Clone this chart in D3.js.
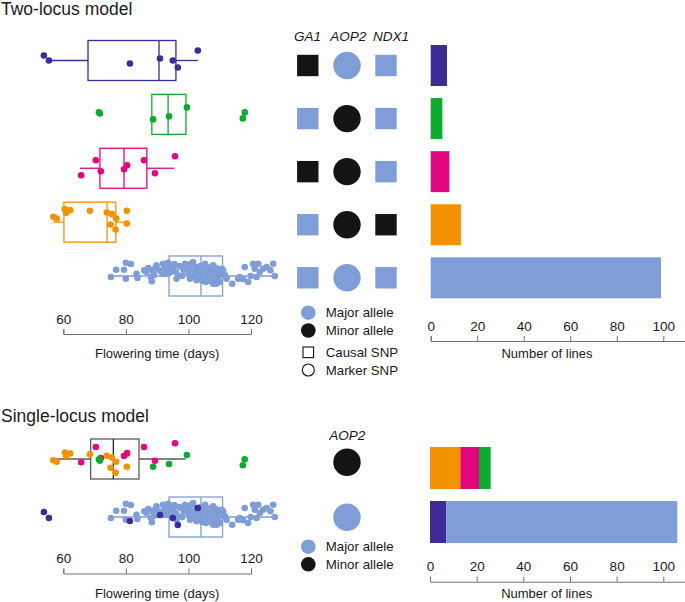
<!DOCTYPE html>
<html><head><meta charset="utf-8">
<script src="https://cdn.jsdelivr.net/npm/d3@7"></script>
<style>
body{margin:0;background:#fff;}
svg{display:block;font-family:"Liberation Sans",Arial,sans-serif;}
</style></head><body>
<svg id="chart" width="685" height="602"></svg>
<script>
// ---------------- DATA ----------------
const rowKeys = ["GA1", "AOP2", "GA1+AOP2", "AOP2+NDX1", "none"];
const rowColors = ["#3d2b97", "#0bab2e", "#e2077f", "#f39200", "#7f9dd6"];
const genes = ["GA1", "AOP2", "NDX1"];
const geneShape = ["causal", "marker", "causal"];
const ga1Allele  = ["minor", "major", "minor", "major", "major"];
const aop2Allele = ["major", "minor", "minor", "minor", "major"];
const ndx1Allele = ["major", "major", "major", "minor", "major"];
const lineCounts = [7, 5, 8, 13, 99];

// box statistics (days)
const boxWhiskLo = [56.4, 88.3, 65.3, 56.7, 74.6];
const boxQ1      = [67.9, 88.3, 71.7, 60.2, 93.8];
const boxMedian  = [90.6, 93.5, 79.4, 74.0, 104.0];
const boxQ3      = [96.0, 99.2, 86.7, 76.8, 110.9];
const boxWhiskHi = [103.0, 99.2, 95.4, 80.7, 128.6];
const minorBox   = [56.3, 68.75, 76.0, 84.2, 99.1]; // lo, q1, med, q3, hi

// flowering time per line (days) and jitter offsets
const purpleDays = [53.8, 55.4, 81.3, 90.9, 95.0, 96.6, 103.0];
const purpleJit  = [-5, 0, 3, -2, 0, 7, -10];
const purpleJit2 = [-5, 1, 4, -2, 1, 8, -9];
const greenDays = [71.4, 71.7, 88.7, 93.8, 99.5, 118.0, 117.4];
const greenJit  = [-2, -1, 5, 2, -7, -2, 4];
const greenJit2 = [0.3, 1.7, 7.7, 5, -4, 0.3, 6.3];
const magentaDays = [65.7, 70.4, 72.0, 79.4, 80.4, 85.8, 89.3, 95.7];
const magentaJit  = [7, -8, 3, 1, -3, -8, 5, -12];
const magentaJit2 = [3.3, -12, -1, -3, -6, -12, 1.7, -15.7];
const orangeDays = [56.8, 57.9, 60.5, 60.9, 62.2, 68.5, 73.9, 75.5, 76.9, 75.1, 76.7, 80.3, 80.3];
const orangeJit  = [-5.3, -3.7, -13, -9.3, -12, -11.3, -9.7, -8, -3.7, 2.3, 7.3, -11.3, 1.3];
const orangeJit2 = [1.2, 2.8, -6.5, -2.8, -5.5, -4.8, -3.2, -1.5, 2.8, 8.8, 13.8, -4.8, 7.8];
const blueDays = [75.2,76.9,79.4,80.0,81.6,80.0,83.4,83.7,85.9,86.6,88.0,88.3,88.5,89.3,89.8,90.7,91.4,91.9,92.5,93.0,
  93.5,94.1,94.6,95.1,94.3,93.5,96.2,96.7,97.8,98.9,99.4,99.9,101.0,101.5,102.6,102.1,100.5,102.6,103.7,104.2,
  104.7,105.3,105.8,106.3,106.9,107.4,107.9,108.5,109.0,109.5,110.1,110.6,109.0,107.9,111.1,111.7,112.2,114.0,115.9,116.4,
  117.5,118.0,119.1,119.9,120.7,121.2,121.8,122.3,122.8,123.9,125.0,126.2,127.1,127.6,
  92.0,93.8,95.5,96.0,97.0,98.0,98.5,100.0,100.8,101.8,102.8,103.2,103.9,104.5,105.0,105.6,106.0,106.6,107.2,107.7,
  108.2,108.8,110.4,87.2,89.0];
const blueJit = [1,-6.3,-6.3,-13.3,-12,2.7,-2.3,2,-5.7,-4,1,5.3,-5.7,-7.3,-10.7,-5.7,-4,-12.3,-9,-7.3,
  -13.3,-10.7,-5.7,-9,-4,-2.3,2.7,-0.7,-9,-12.3,-7.3,-10.7,-5.7,-14,-9,1,2.7,4.3,-4,1,
  -7.3,-12.3,-2.3,2.7,-7.3,-0.7,-10.7,4.3,-4,1,6,-7.3,7.7,7.7,-5.7,-0.7,2.7,7.7,2.7,1,
  3.3,-9,6,0,-12.3,-7.3,1,-12.3,-4,-7.3,-9,-5.7,-12.3,0,
  -2,-6,-12,-4,-10,0,-6,-2,-12,0,-4,3,-10,5,-3,6,-9,0,5,-4,
  0,-8,-2,-8,-1];

const flowerTicks = [60, 80, 100, 120];
const lineTicks = [0, 20, 40, 60, 80, 100];

// single-locus model
const singleKeys = ["minor", "major"];
const singleStack = [
  [{c: 3, v: 13}, {c: 2, v: 8}, {c: 1, v: 5}],
  [{c: 0, v: 7}, {c: 4, v: 99}]
];

// ---------------- DRAW ----------------
const svg = d3.select("#chart");
const alleleColor = {major: "#7f9dd6", minor: "#141414"};
const axisColor = "#707070", textColor = "#1a1a1a";

const xFlow = d3.scaleLinear().domain([60, 120]).range([63.3, 251]);
const xLinesTop = d3.scaleLinear().domain([0, 109.5]).range([430.7, 430.7 + 2.326 * 109.5]);
const xLinesBot = d3.scaleLinear().domain([0, 109.4]).range([430, 430 + 2.333 * 109.4]);

const yBoxTop = d3.scalePoint().domain(rowKeys).range([60.5, 276]);
const ySymTop = d3.scalePoint().domain(rowKeys).range([65.5, 277.8]);
const yBoxBot = d3.scalePoint().domain(singleKeys).range([459, 517]);
const ySymBot = d3.scalePoint().domain(singleKeys).range([462.3, 517.3]);
const yBarBot = d3.scalePoint().domain(singleKeys).range([468, 522]);

function title(txt, y) {
  svg.append("text").attr("x", 1).attr("y", y).attr("font-size", 17.5)
    .attr("fill", textColor).text(txt);
}
title("Two-locus model", 15);
title("Single-locus model", 421.5);

function drawAxis(scale, y, ticks, label, labelY) {
  const g = svg.append("g").attr("transform", `translate(0,${y})`)
    .call(d3.axisTop(scale).tickValues(ticks).tickSize(5).tickSizeOuter(5).tickPadding(5.5));
  g.select(".domain").attr("stroke", axisColor);
  g.selectAll(".tick line").attr("stroke", axisColor);
  g.selectAll(".tick text").attr("fill", textColor).attr("font-size", 13.5)
    .attr("font-family", '"Liberation Sans",Arial,sans-serif');
  svg.append("text").attr("x", (scale(ticks[0]) + scale(ticks[ticks.length - 1])) / 2)
    .attr("y", labelY).attr("text-anchor", "middle").attr("font-size", 13)
    .attr("fill", textColor).text(label);
}

function drawBox(yc, color, lo, q1, med, q3, hi, medColor) {
  const g = svg.append("g").attr("stroke", color).attr("stroke-width", 1.3).attr("fill", "none");
  g.append("line").attr("x1", xFlow(lo)).attr("x2", xFlow(q1)).attr("y1", yc).attr("y2", yc);
  g.append("line").attr("x1", xFlow(q3)).attr("x2", xFlow(hi)).attr("y1", yc).attr("y2", yc);
  g.append("rect").attr("x", xFlow(q1)).attr("y", yc - 20)
    .attr("width", xFlow(q3) - xFlow(q1)).attr("height", 40);
  g.append("line").attr("x1", xFlow(med)).attr("x2", xFlow(med)).attr("y1", yc - 20).attr("y2", yc + 20)
    .attr("stroke", medColor || color);
}

function drawPoints(yc, color, days, jit) {
  svg.append("g").selectAll("circle").data(days).join("circle")
    .attr("cx", d => xFlow(d)).attr("cy", (d, i) => yc + jit[i]).attr("r", 3.3)
    .attr("fill", color);
}

// ---- Two-locus: boxes + points
const topPts = [
  [purpleDays, purpleJit], [greenDays, greenJit], [magentaDays, magentaJit],
  [orangeDays, orangeJit], [blueDays, blueJit]
];
rowKeys.forEach((k, i) => {
  const yc = yBoxTop(k);
  drawBox(yc, rowColors[i], boxWhiskLo[i], boxQ1[i], boxMedian[i], boxQ3[i], boxWhiskHi[i]);
  drawPoints(yc, rowColors[i], topPts[i][0], topPts[i][1]);
});
drawAxis(xFlow, 334, flowerTicks, "Flowering time (days)", 357.5);

// ---- Two-locus: genotype symbols
const geneX = [307.8, 347, 386];
const geneLabelX = [307.5, 348.3, 391];
genes.forEach((gname, j) => {
  svg.append("text").attr("x", geneLabelX[j]).attr("y", 40.5).attr("text-anchor", "middle")
    .attr("font-size", 13.5).attr("font-style", "italic").attr("fill", textColor).text(gname);
});
const alleleTable = [ga1Allele, aop2Allele, ndx1Allele];
rowKeys.forEach((k, i) => {
  const yc = ySymTop(k);
  alleleTable.forEach((arr, j) => {
    const col = alleleColor[arr[i]];
    if (geneShape[j] === "causal") {
      svg.append("rect").attr("x", geneX[j] - 10.7).attr("y", yc - 10.7)
        .attr("width", 21.4).attr("height", 21.4).attr("fill", col);
    } else {
      svg.append("circle").attr("cx", geneX[j]).attr("cy", yc).attr("r", 13.7).attr("fill", col);
    }
  });
});

// legend (top)
function legendRow(y, kind, fill, label) {
  if (kind === "dot") svg.append("circle").attr("cx", 308.3).attr("cy", y).attr("r", 7.3).attr("fill", fill);
  if (kind === "sq") svg.append("rect").attr("x", 303).attr("y", y - 5.3).attr("width", 10.6).attr("height", 10.6)
    .attr("fill", "none").attr("stroke", "#111").attr("stroke-width", 1.1);
  if (kind === "ring") svg.append("circle").attr("cx", 308.3).attr("cy", y).attr("r", 6)
    .attr("fill", "none").attr("stroke", "#111").attr("stroke-width", 1.1);
  svg.append("text").attr("x", 325.7).attr("y", y + 4.7).attr("font-size", 13.3)
    .attr("fill", textColor).text(label);
}
legendRow(312.7, "dot", alleleColor.major, "Major allele");
legendRow(330.5, "dot", alleleColor.minor, "Minor allele");
legendRow(352.3, "sq", null, "Causal SNP");
legendRow(370, "ring", null, "Marker SNP");

// ---- Two-locus: bars
rowKeys.forEach((k, i) => {
  svg.append("rect").attr("x", xLinesTop(0)).attr("y", ySymTop(k) - 20.5)
    .attr("width", xLinesTop(lineCounts[i]) - xLinesTop(0)).attr("height", 41)
    .attr("fill", rowColors[i]);
});
drawAxis(xLinesTop, 341, lineTicks, "Number of lines", 357.5);

// ---- Single-locus: boxes + points
drawBox(yBoxBot("minor"), "#5a5a5a", minorBox[0], minorBox[1], minorBox[2], minorBox[3], minorBox[4], "#222");
drawBox(yBoxBot("major"), rowColors[4], boxWhiskLo[4], boxQ1[4], boxMedian[4], boxQ3[4], boxWhiskHi[4]);
drawPoints(yBoxBot("minor"), rowColors[3], orangeDays, orangeJit2);
drawPoints(yBoxBot("minor"), rowColors[2], magentaDays, magentaJit2);
drawPoints(yBoxBot("minor"), rowColors[1], greenDays, greenJit2);
drawPoints(yBoxBot("major"), rowColors[4], blueDays, blueJit);
drawPoints(yBoxBot("major"), rowColors[0], purpleDays, purpleJit2);
drawAxis(xFlow, 573.5, flowerTicks, "Flowering time (days)", 597.5);

// ---- Single-locus: AOP2 symbols
svg.append("text").attr("x", 347.2).attr("y", 439.5).attr("text-anchor", "middle")
  .attr("font-size", 13.5).attr("font-style", "italic").attr("fill", textColor).text("AOP2");
singleKeys.forEach(k => {
  svg.append("circle").attr("cx", 347).attr("cy", ySymBot(k)).attr("r", 13.7).attr("fill", alleleColor[k]);
});
legendRow(546.7, "dot", alleleColor.major, "Major allele");
legendRow(564.3, "dot", alleleColor.minor, "Minor allele");

// ---- Single-locus: stacked bars
singleKeys.forEach((k, i) => {
  let acc = 0;
  singleStack[i].forEach(s => {
    svg.append("rect").attr("x", xLinesBot(acc)).attr("y", yBarBot(k) - 21)
      .attr("width", xLinesBot(acc + s.v) - xLinesBot(acc)).attr("height", 42)
      .attr("fill", rowColors[s.c]);
    acc += s.v;
  });
});
drawAxis(xLinesBot, 581.7, lineTicks, "Number of lines", 597.5);
</script></body></html>
